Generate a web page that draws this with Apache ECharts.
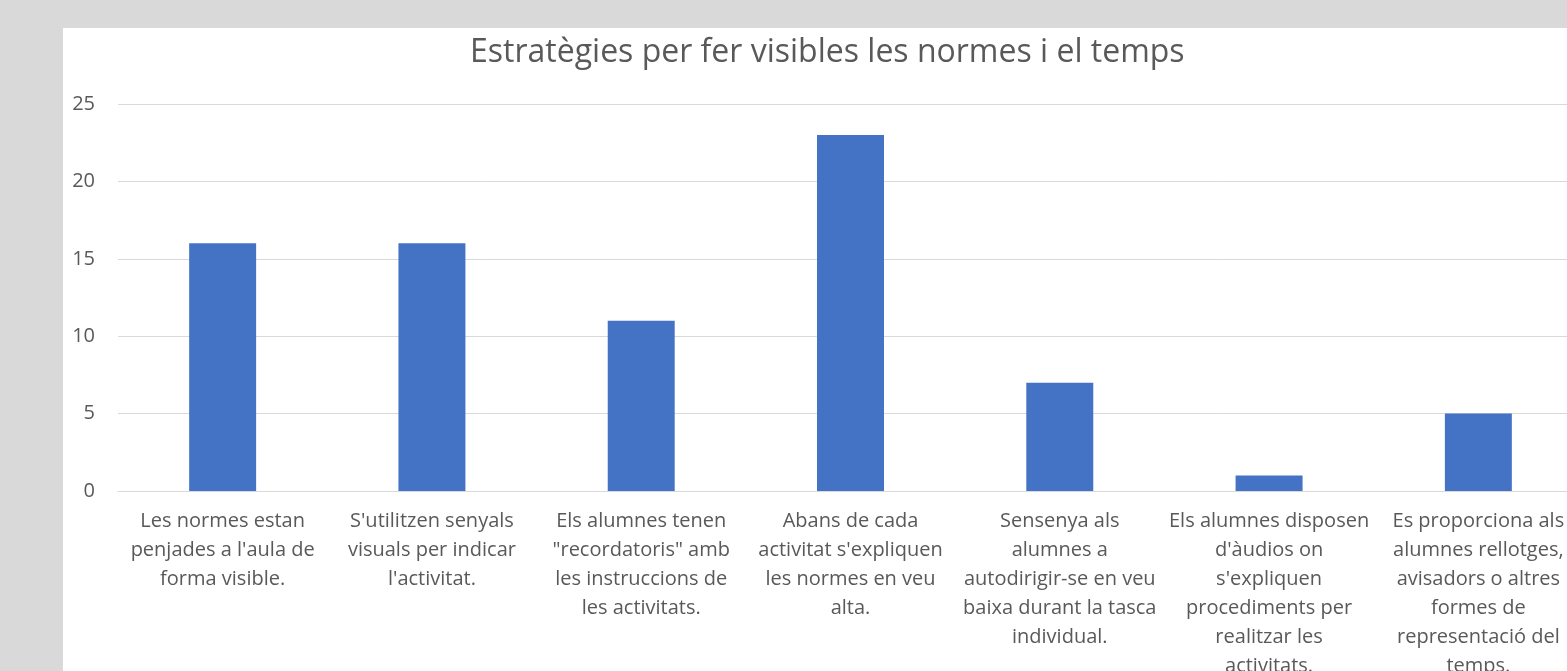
<!DOCTYPE html>
<html>
<head>
<meta charset="utf-8">
<script src="https://cdn.jsdelivr.net/npm/echarts@6/dist/echarts.min.js"></script>
<style>
  html, body { margin: 0; padding: 0; width: 1567px; height: 671px; overflow: hidden; background: #d9d9d9; }
  #panel { position: absolute; left: 63px; top: 28px; width: 1600px; height: 700px; background: #ffffff; }
  #chart { width: 1600px; height: 700px; }
</style>
</head>
<body>
<div id="panel"><div id="chart"></div></div>
<script>
// Estratègies per fer visibles les normes i el temps
const titleText = 'Estratègies per fer visibles les normes i el temps';

const categories = [
  "Les normes estan\npenjades a l'aula de\nforma visible.",
  "S'utilitzen senyals\nvisuals per indicar\nl'activitat.",
  "Els alumnes tenen\n\"recordatoris\" amb\nles instruccions de\nles activitats.",
  "Abans de cada\nactivitat s'expliquen\nles normes en veu\nalta.",
  "Sensenya als\nalumnes a\nautodirigir-se en veu\nbaixa durant la tasca\nindividual.",
  "Els alumnes disposen\nd'àudios on\ns'expliquen\nprocediments per\nrealitzar les\nactivitats.",
  "Es proporciona als\nalumnes rellotges,\navisadors o altres\nformes de\nrepresentació del\ntemps."
];

const values = [16, 16, 11, 23, 7, 1, 5];

const yTicks = { min: 0, max: 25, interval: 5 };

const textColor = '#595959';
const gridColor = '#d9d9d9';
const barColor = '#4472c4';
const fontFamily = '"Open Sans", Lato, sans-serif';

const chart = echarts.init(document.getElementById('chart'), null, { renderer: 'canvas' });

const option = {
  animation: false,
  title: {
    text: titleText,
    left: 402,
    top: 4,
    textStyle: { color: textColor, fontSize: 32, fontWeight: 'normal', fontFamily: fontFamily }
  },
  grid: { left: 55, top: 76, width: 1465, height: 387, containLabel: false },
  xAxis: {
    type: 'category',
    data: categories,
    axisLine: { show: true, lineStyle: { color: gridColor, width: 1 } },
    axisTick: { show: false },
    axisLabel: {
      interval: 0,
      margin: 16,
      color: textColor,
      fontSize: 20,
      lineHeight: 29,
      fontFamily: fontFamily,
      align: 'center'
    }
  },
  yAxis: {
    type: 'value',
    min: yTicks.min,
    max: yTicks.max,
    interval: yTicks.interval,
    axisLine: { show: false },
    axisTick: { show: false },
    splitLine: { lineStyle: { color: gridColor, width: 1 } },
    axisLabel: { color: textColor, fontSize: 20, margin: 23, fontFamily: fontFamily }
  },
  series: [{
    type: 'bar',
    data: values,
    barWidth: '32%',
    itemStyle: { color: barColor }
  }]
};

chart.setOption(option);
</script>
</body>
</html>
